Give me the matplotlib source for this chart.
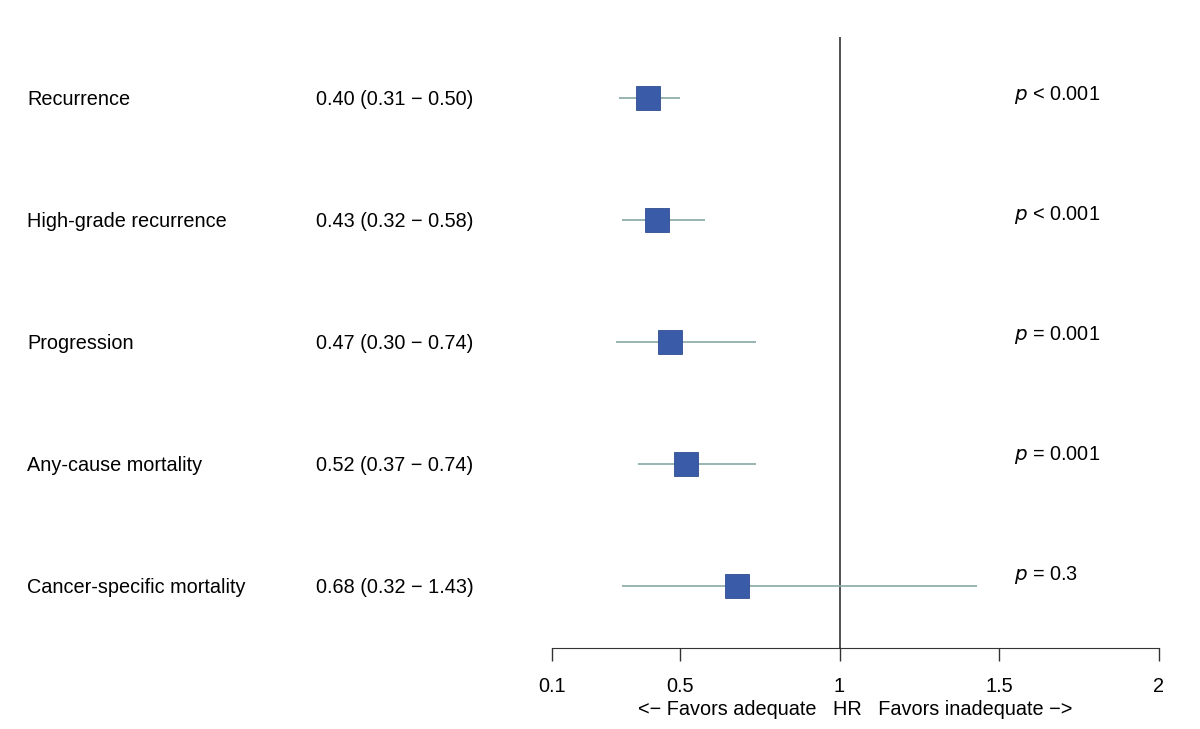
import matplotlib.pyplot as plt
import numpy as np
from matplotlib.transforms import blended_transform_factory

plt.rcParams['font.family'] = ['Liberation Sans', 'DejaVu Sans']

outcomes = ['Recurrence', 'High-grade recurrence', 'Progression',
            'Any-cause mortality', 'Cancer-specific mortality']
hr = [0.40, 0.43, 0.47, 0.52, 0.68]
lo = [0.31, 0.32, 0.30, 0.37, 0.32]
hi = [0.50, 0.58, 0.74, 0.74, 1.43]
pvals = ['< 0.001', '< 0.001', '= 0.001', '= 0.001', '= 0.3']
xticks = [0.1, 0.5, 1, 1.5, 2]
xticklabels = ['0.1', '0.5', '1', '1.5', '2']

fs = 14.3
fig = plt.figure(figsize=(12, 7.29), dpi=100)
ax = fig.add_axes([552/1200, 0.111, 607/1200, 0.838])

y = np.arange(len(outcomes))
ax.hlines(y, lo, hi, color='#86a8a6', lw=1.2, zorder=1)
ax.plot(hr, y, 's', color='#3a5ca8', ms=17.8, mec='#2f4d8f', mew=0.6, zorder=2)
ax.axvline(1, color='#333333', lw=1.2, zorder=0)

ax.set_xlim(0.1, 2)
ax.set_ylim(4.508, -0.5)
for s in ['top', 'right', 'left']:
    ax.spines[s].set_visible(False)
ax.spines['bottom'].set_color('#333333')
ax.set_yticks([])
ax.set_xticks(xticks)
ax.set_xticklabels(xticklabels, fontsize=fs)
ax.tick_params(axis='x', length=9, width=1, color='#333333', pad=12)
ax.set_xlabel('<\u2212 Favors adequate   HR   Favors inadequate \u2212>', fontsize=fs, labelpad=2.5)

tr = blended_transform_factory(fig.transFigure, ax.transData)
for i in range(len(outcomes)):
    ax.text(27/1200, i + 0.01, outcomes[i], transform=tr, fontsize=fs, va='center', ha='left')
    ax.text(316/1200, i + 0.01, '%.2f (%.2f \u2212 %.2f)' % (hr[i], lo[i], hi[i]),
            transform=tr, fontsize=fs, va='center', ha='left')

p_y = np.linspace(-0.03, 3.91, 5)
for i in range(len(pvals)):
    ax.text(1014/1200, p_y[i], '$p$ ' + pvals[i], transform=tr, fontsize=fs,
            va='center', ha='left')

fig.savefig('out.png', dpi=100)
